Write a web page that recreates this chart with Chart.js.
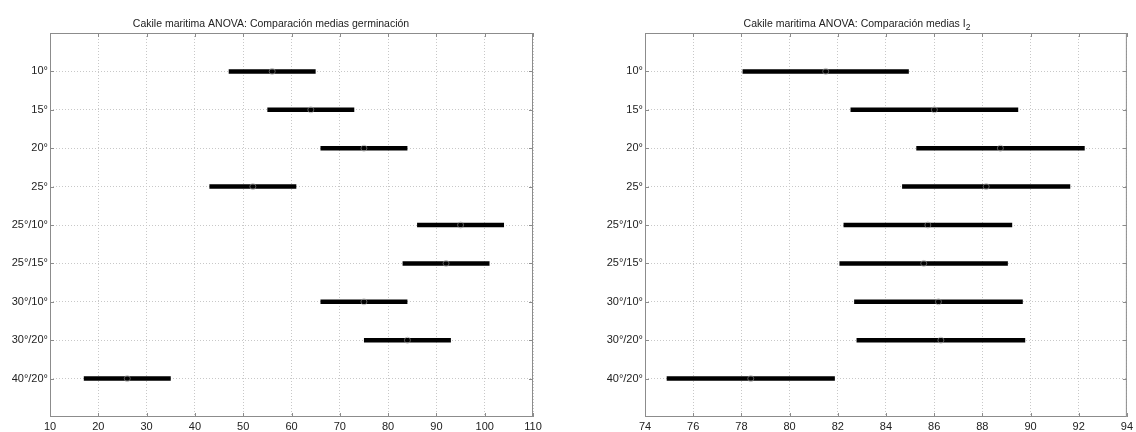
<!DOCTYPE html>
<html>
<head>
<meta charset="utf-8">
<title>Cakile maritima ANOVA</title>
<script src="https://cdn.jsdelivr.net/npm/chart.js@4.4.1/dist/chart.umd.min.js"></script>
<style>
  body { margin: 0; background: #fff; width: 1136px; height: 432px; overflow: hidden; position: relative; }
  .panel { position: absolute; top: 0; height: 432px; }
  #p1 { left: 0; width: 560px; }
  #p2 { left: 560px; width: 576px; }
</style>
</head>
<body>
<div class="panel" id="p1"><canvas id="chartGerm"></canvas></div>
<div class="panel" id="p2"><canvas id="chartI2"></canvas></div>
<script>
// treatments (top to bottom)
const categories = ['10°', '15°', '20°', '25°', '25°/10°', '25°/15°', '30°/10°', '30°/20°', '40°/20°'];

// germination: comparison intervals and group means
const germLow  = [47, 55, 66, 43, 86, 83, 66, 75, 17];
const germMean = [56, 64, 75, 52, 95, 92, 75, 84, 26];
const germHigh = [65, 73, 84, 61, 104, 101, 84, 93, 35];
const germTicks = [10, 20, 30, 40, 50, 60, 70, 80, 90, 100, 110];

// I2: comparison intervals and group means
const i2Low  = [78.05, 82.53, 85.26, 84.67, 82.24, 82.07, 82.68, 82.78, 74.90];
const i2Mean = [81.50, 86.01, 88.75, 88.16, 85.74, 85.57, 86.18, 86.28, 78.39];
const i2High = [84.95, 89.49, 92.25, 91.65, 89.24, 89.06, 89.68, 89.78, 81.88];
const i2Ticks = [74, 76, 78, 80, 82, 84, 86, 88, 90, 92, 94];

const FONT = "'Liberation Sans', Arial, sans-serif";

// box around the axes plus small inward tick marks, matlab style
const framePlugin = {
    id: 'frame',
    afterDraw(chart) {
        const { ctx, chartArea: a, scales } = chart;
        ctx.save();
        ctx.strokeStyle = '#8c8c8c';
        ctx.lineWidth = 1;
        ctx.strokeRect(a.left + 0.5, a.top + 0.5, a.right - a.left - 1, a.bottom - a.top - 1);
        ctx.beginPath();
        scales.x.ticks.forEach(t => {
            const px = Math.round(scales.x.getPixelForValue(t.value)) + 0.5;
            ctx.moveTo(px, a.bottom); ctx.lineTo(px, a.bottom - 4);
            ctx.moveTo(px, a.top); ctx.lineTo(px, a.top + 4);
        });
        scales.y.ticks.forEach(t => {
            const py = Math.round(scales.y.getPixelForValue(t.value)) + 0.5;
            ctx.moveTo(a.left, py); ctx.lineTo(a.left + 4, py);
            ctx.moveTo(a.right, py); ctx.lineTo(a.right - 4, py);
        });
        ctx.stroke();
        ctx.restore();
    }
};

// title with optional subscript part
const titlePlugin = {
    id: 'plotTitle',
    afterDraw(chart, args, opts) {
        const ctx = chart.ctx;
        ctx.save();
        ctx.fillStyle = '#222';
        ctx.textBaseline = 'middle';
        ctx.font = '10.5px ' + FONT;
        const mainW = ctx.measureText(opts.text).width;
        ctx.font = '8.5px ' + FONT;
        const subW = opts.sub ? ctx.measureText(opts.sub).width : 0;
        const x0 = opts.x - (mainW + subW) / 2;
        ctx.font = '10.5px ' + FONT;
        ctx.textAlign = 'left';
        ctx.fillText(opts.text, x0, opts.y);
        if (opts.sub) {
            ctx.font = '8.5px ' + FONT;
            ctx.fillText(opts.sub, x0 + mainW, opts.y + 4);
        }
        ctx.restore();
    }
};

function makeChart(canvasId, low, mean, high, xTicks, title, layout) {
    const datasets = [{
        data: mean.map((m, i) => ({ x: m, y: i + 1 })),
        pointRadius: 3,
        pointBorderWidth: 1,
        pointBorderColor: 'rgba(150,150,150,0.6)',
        pointBackgroundColor: 'rgba(0,0,0,0)',
        order: -1
    }];
    categories.forEach((c, i) => {
        datasets.push({
            data: [{ x: low[i], y: i + 1 }, { x: high[i], y: i + 1 }],
            showLine: true,
            borderColor: '#000',
            borderWidth: 4.5,
            borderCapStyle: 'butt',
            pointRadius: 0
        });
    });

    const gridStyle = { color: '#c8c8c8', lineWidth: 1, drawTicks: false };
    const tickFont = { family: FONT, size: 11 };

    return new Chart(document.getElementById(canvasId), {
        type: 'scatter',
        data: { datasets },
        options: {
            responsive: true,
            maintainAspectRatio: false,
            animation: false,
            layout: { padding: { top: 33, right: layout.padRight, left: 0, bottom: 0 } },
            plugins: {
                legend: { display: false },
                tooltip: { enabled: false },
                plotTitle: title
            },
            scales: {
                x: {
                    type: 'linear',
                    min: xTicks[0],
                    max: xTicks[xTicks.length - 1],
                    afterBuildTicks: s => { s.ticks = xTicks.map(v => ({ value: v })); },
                    afterFit: s => { s.height = 15; },
                    grid: gridStyle,
                    border: { display: false, dash: [1, 2] },
                    ticks: { color: '#222', font: tickFont, padding: 3, maxRotation: 0, autoSkip: false }
                },
                y: {
                    type: 'linear',
                    reverse: true,
                    min: 0,
                    max: categories.length + 1,
                    afterBuildTicks: s => { s.ticks = categories.map((c, i) => ({ value: i + 1 })); },
                    afterFit: s => { s.width = layout.axisWidth; },
                    grid: gridStyle,
                    border: { display: false, dash: [1, 2] },
                    ticks: {
                        color: '#222', font: tickFont, padding: 2, autoSkip: false,
                        callback: v => categories[v - 1]
                    }
                }
            }
        },
        plugins: [framePlugin, titlePlugin]
    });
}

makeChart('chartGerm', germLow, germMean, germHigh, germTicks,
    { text: 'Cakile maritima ANOVA: Comparación medias germinación', x: 271, y: 24 },
    { axisWidth: 50, padRight: 27 });

makeChart('chartI2', i2Low, i2Mean, i2High, i2Ticks,
    { text: 'Cakile maritima ANOVA: Comparación medias I', sub: '2', x: 297, y: 24 },
    { axisWidth: 85, padRight: 8 });
</script>
</body>
</html>
